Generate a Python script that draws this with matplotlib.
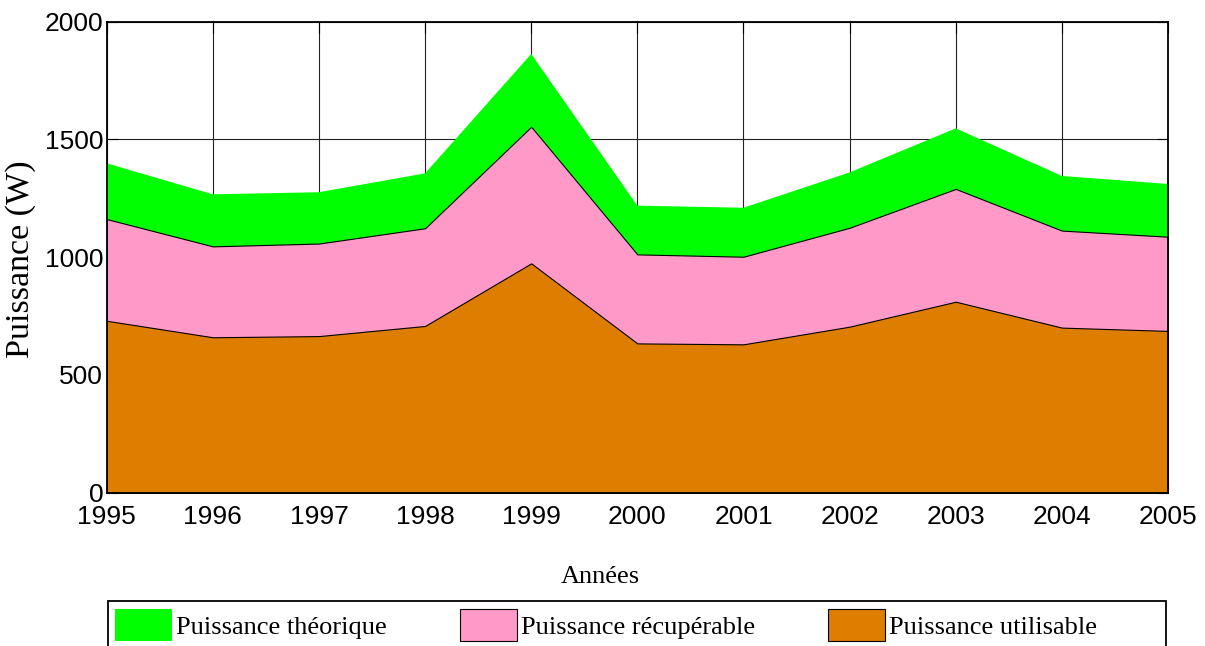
import matplotlib
matplotlib.use("Agg")
import matplotlib.pyplot as plt
from matplotlib import font_manager
from matplotlib.patches import Rectangle

years = [1995, 1996, 1997, 1998, 1999, 2000, 2001, 2002, 2003, 2004, 2005]
p_theorique = [1399, 1267, 1276, 1356, 1863, 1219, 1210, 1360, 1547, 1345, 1311]
p_recuperable = [1162, 1046, 1058, 1123, 1554, 1012, 1002, 1125, 1290, 1113, 1087]
p_utilisable = [730, 660, 665, 708, 974, 634, 630, 705, 811, 701, 687]
yticks = [0, 500, 1000, 1500, 2000]
labels = ["Puissance théorique", "Puissance récupérable", "Puissance utilisable"]

W, H = 1205, 646
fig = plt.figure(figsize=(W / 100, H / 100), dpi=100)
L, R, T, B = 106.7, 1168, 21.7, 492.7
ax = fig.add_axes([L / W, 1 - B / H, (R - L) / W, (B - T) / H])

names = {f.name for f in font_manager.fontManager.ttflist}
if "Liberation Sans Narrow" in names:
    tick_family, tick_size = "Liberation Sans Narrow", 21
else:
    tick_family, tick_size = "Liberation Sans", 19
serif = "Liberation Serif"

ax.fill_between(years, 0, p_theorique, facecolor="#00FF00", edgecolor="none",
                linewidth=0, label=labels[0], zorder=2)
ax.fill_between(years, 0, p_recuperable, facecolor="#FF99C8", edgecolor="black",
                linewidth=0.8, label=labels[1], zorder=3)
ax.fill_between(years, 0, p_utilisable, facecolor="#DE7E00", edgecolor="black",
                linewidth=0.8, label=labels[2], zorder=4)

ax.set_xlim(years[0], years[-1])
ax.set_ylim(0, 2000)
ax.set_xticks(years)
ax.set_yticks(yticks)
ax.set_axisbelow(True)
ax.grid(True, color="#222222", linewidth=0.8)
for s in ax.spines.values():
    s.set_linewidth(1.3)
    s.set_zorder(6)
ax.tick_params(direction="in", length=8, width=0.8, top=True, right=True,
               labelsize=tick_size)
ax.tick_params(axis="x", pad=8.5)
ax.tick_params(axis="y", pad=2.5)
for lab in ax.get_xticklabels() + ax.get_yticklabels():
    lab.set_family(tick_family)

ax.set_ylabel("Puissance (W)", family=serif, fontsize=24.5, va="center")
ax.yaxis.set_label_coords((21 - L) / (R - L), (B - 259) / (B - T))
ax.set_xlabel("Années", family=serif, fontsize=19, va="center")
ax.xaxis.set_label_coords((600 - L) / (R - L), (B - 577) / (B - T))

fs_px = 19 * 100 / 72
leg = fig.legend(loc="center left", bbox_to_anchor=(115 / W, 1 - 625 / H), ncol=3,
                 frameon=False, borderpad=0, borderaxespad=0,
                 handlelength=57 / fs_px, handleheight=40 / fs_px,
                 handletextpad=4 / fs_px, columnspacing=2.76,
                 prop={"family": serif, "size": 19})

fig.patches.append(Rectangle((108 / W, -0.05), (1166 - 108) / W, (1 - 601 / H) + 0.05,
                             transform=fig.transFigure, fill=False,
                             edgecolor="black", linewidth=1.3))

fig.savefig("out.png", dpi=100)
